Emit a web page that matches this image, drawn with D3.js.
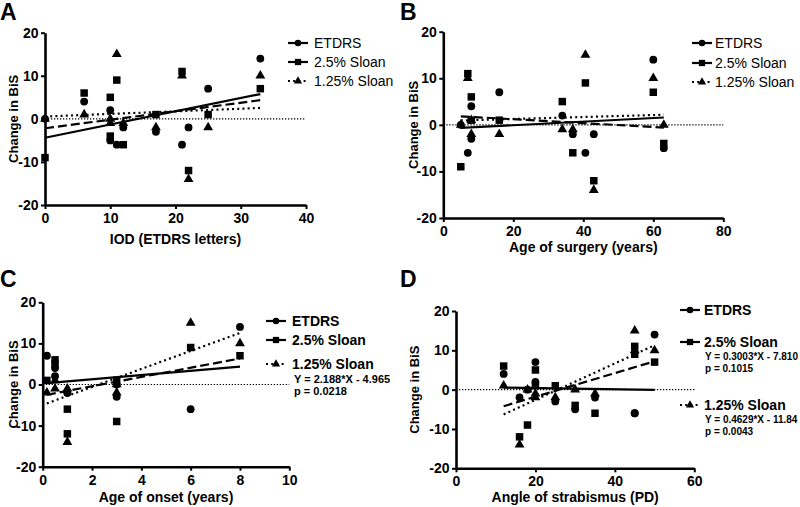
<!DOCTYPE html>
<html><head><meta charset="utf-8">
<script src="https://cdn.jsdelivr.net/npm/d3@7"></script>
<style>body{margin:0;background:#fff} text{font-family:"Liberation Sans",Arial,Helvetica,sans-serif}</style>
</head><body><svg id="chart" width="800" height="507"></svg>
<script>
// ---- data (one entry per subject) ----
const seriesNames = ["ETDRS", "2.5% Sloan", "1.25% Sloan"];
const etdrs     = [0, -6, 4, -3, 7, 2, -2, -6, -2, 14, -5];
const sloan25   = [-9, 11, 6, 1, 1, 5, -6, 9, -12, 7, -4];
const sloan125  = [0, 10, 1, -2, -2, -1, -1, 15, -14, 10, 0];
const iod        = [0, 21, 6, 17, 25, 10, 12, 11, 22, 33, 10];
const ageSurgery = [5, 7, 8, 8, 16, 34, 37, 40.6, 43, 60, 63];
const ageOnset   = [3, null, 0.5, 3, 0.17, 0.5, 1, 6, 1, 8, null];
const angle      = [18, 45, 12, 25, 20, 20, 35, 45, 16, 50, 30];
const yTicks       = [-20, -10, 0, 10, 20];
const iodTicks     = [0, 10, 20, 30, 40];
const surgeryTicks = [0, 20, 40, 60, 80];
const onsetTicks   = [0, 2, 4, 6, 8, 10];
const angleTicks   = [0, 20, 40, 60];
const yTitle = "Change in BiS";
const xTitles = ["IOD (ETDRS letters)", "Age of surgery (years)", "Age of onset (years)", "Angle of strabismus (PD)"];
const panelLetters = ["A", "B", "C", "D"];
const statsC = [null, null, ["Y = 2.188*X - 4.965", "p = 0.0218"]];
const statsD = [null, ["Y = 0.3003*X - 7.810", "p = 0.1015"], ["Y = 0.4629*X - 11.84", "p = 0.0043"]];

// ---- layout ----
const panels = [
  {letter: panelLetters[0], lx: 0, ly: 20, x: iod, xDomain: [0, 40], xTicks: iodTicks, xTitle: xTitles[0],
   left: 45, right: 306, top: 32.7, bottom: 205, yTitleX: 18, xTitleOff: 38.5,
   legend: {sx: 288, tx: 314, rows: [43, 62, 81], bold: false, stats: [null, null, null]}},
  {letter: panelLetters[1], lx: 400, ly: 20, x: ageSurgery, xDomain: [0, 80], xTicks: surgeryTicks, xTitle: xTitles[1],
   left: 443.3, right: 723.3, top: 31.7, bottom: 218, yTitleX: 418, xTitleOff: 34,
   legend: {sx: 692, tx: 715, rows: [43, 63, 82], bold: false, stats: [null, null, null]}},
  {letter: panelLetters[2], lx: 0, ly: 287, x: ageOnset, xDomain: [0, 10], xTicks: onsetTicks, xTitle: xTitles[2],
   left: 42.7, right: 289.3, top: 302.3, bottom: 466.7, yTitleX: 18, xTitleOff: 35,
   legend: {sx: 266, tx: 292, rows: [321, 340, 364], bold: true, stats: statsC, statY: [[], [], [379, 391]], eqSize: 11, eqX: 294}},
  {letter: panelLetters[3], lx: 400, ly: 287, x: angle, xDomain: [0, 60], xTicks: angleTicks, xTitle: xTitles[3],
   left: 456, right: 694.3, top: 311, bottom: 468.3, yTitleX: 419, xTitleOff: 34,
   legend: {sx: 680, tx: 704, rows: [310, 342, 405], bold: true, stats: statsD, statY: [[], [356, 368], [419, 431]], eqSize: 10, eqX: 705}}
];

const seriesY = [etdrs, sloan25, sloan125];
const symbols = [d3.symbolCircle, d3.symbolSquare, d3.symbolTriangle];
const symSize = [48, 56, 42];
const dashes = [null, "9,4", "2,3.2"];

const svg = d3.select("#chart");

function regress(xs, ys) {
  const pts = xs.map((x, i) => [x, ys[i]]).filter(p => p[0] !== null && p[1] !== null);
  const mx = d3.mean(pts, p => p[0]), my = d3.mean(pts, p => p[1]);
  const sxy = d3.sum(pts, p => (p[0] - mx) * (p[1] - my));
  const sxx = d3.sum(pts, p => (p[0] - mx) ** 2);
  const b = sxy / sxx, a = my - b * mx;
  const x0 = d3.min(pts, p => p[0]), x1 = d3.max(pts, p => p[0]);
  return [[x0, a + b * x0], [x1, a + b * x1]];
}

panels.forEach(p => {
  const x = d3.scaleLinear().domain(p.xDomain).range([p.left, p.right]);
  const y = d3.scaleLinear().domain([-20, 20]).range([p.bottom, p.top]);
  const g = svg.append("g");

  g.append("text").attr("x", p.lx).attr("y", p.ly).attr("font-size", 23).attr("font-weight", "bold").text(p.letter);

  g.append("line").attr("x1", x(p.xDomain[0])).attr("x2", x(p.xDomain[1])).attr("y1", y(0)).attr("y2", y(0))
    .attr("stroke", "#000").attr("stroke-width", 1.1).attr("stroke-dasharray", "1.3,1.7");

  seriesY.forEach((ys, si) => {
    const pts = p.x.map((xv, i) => [xv, ys[i]]).filter(d => d[0] !== null);
    g.selectAll(null).data(pts).enter().append("path")
      .attr("d", d3.symbol().type(symbols[si]).size(symSize[si]))
      .attr("transform", d => `translate(${x(d[0])},${y(d[1])})`)
      .attr("fill", "#000");
  });

  seriesY.forEach((ys, si) => {
    const seg = regress(p.x, ys);
    g.append("line")
      .attr("x1", x(seg[0][0])).attr("y1", y(seg[0][1]))
      .attr("x2", x(seg[1][0])).attr("y2", y(seg[1][1]))
      .attr("stroke", "#000").attr("stroke-width", 2.2)
      .attr("stroke-dasharray", dashes[si]);
  });

  const ax = g.append("g").attr("transform", `translate(0,${p.bottom})`)
    .call(d3.axisBottom(x).tickValues(p.xTicks).tickSize(4).tickSizeOuter(0).tickPadding(4).tickFormat(d => String(d)));
  const ay = g.append("g").attr("transform", `translate(${p.left},0)`)
    .call(d3.axisLeft(y).tickValues(yTicks).tickSize(4).tickSizeOuter(0).tickPadding(2.5).tickFormat(d => String(d)));
  [ax, ay].forEach(a => {
    a.attr("font-family", null).attr("font-size", null);
    a.select(".domain").attr("stroke-width", 2.6);
    a.selectAll(".tick line").attr("stroke-width", 2);
    a.selectAll(".tick text").attr("font-size", 14).attr("font-weight", "bold").attr("fill", "#000")
      .style("font-family", '"Liberation Sans",Arial,sans-serif');
  });

  g.append("text").attr("x", (p.left + p.right) / 2).attr("y", p.bottom + p.xTitleOff)
    .attr("text-anchor", "middle").attr("font-size", 14).attr("font-weight", "bold").text(p.xTitle);
  g.append("text").attr("transform", `translate(${p.yTitleX},${(p.top + p.bottom) / 2}) rotate(-90)`)
    .attr("text-anchor", "middle").attr("font-size", 13).attr("font-weight", "bold").text(yTitle);

  const L = p.legend;
  seriesNames.forEach((name, si) => {
    const cy = L.rows[si];
    g.append("line").attr("x1", L.sx).attr("x2", L.sx + 20).attr("y1", cy).attr("y2", cy)
      .attr("stroke", "#000").attr("stroke-width", 2.2)
      .attr("stroke-dasharray", si === 2 ? "2,3.2" : null);
    g.append("path").attr("d", d3.symbol().type(symbols[si]).size(symSize[si] * 0.7))
      .attr("transform", `translate(${L.sx + 10},${cy})`).attr("fill", "#000");
    g.append("text").attr("x", L.tx).attr("y", cy + 5).attr("font-size", 14)
      .attr("font-weight", L.bold ? "bold" : "normal").text(name);
    if (L.stats[si]) {
      L.stats[si].forEach((s, k) => {
        g.append("text").attr("x", L.eqX).attr("y", L.statY[si][k] + 4).attr("font-size", L.eqSize)
          .attr("font-weight", "bold").text(s);
      });
    }
  });
});
</script></body></html>
